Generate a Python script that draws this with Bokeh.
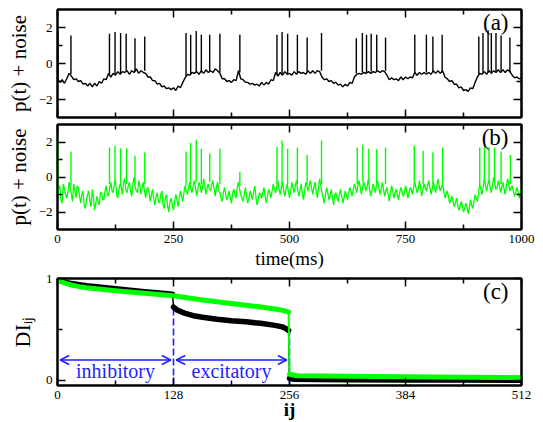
from bokeh.plotting import figure
from bokeh.layouts import column
from bokeh.models import FixedTicker, LinearAxis, Label, Arrow, OpenHead, Range1d
from bokeh.embed import file_html
from bokeh.resources import INLINE

# ---------------- data ----------------
time_ms = list(range(0, 1001, 5))
time_mid_ms = [t + 2.5 for t in range(0, 1000, 5)]

trace_a = [
    -0.85, -1.05, -0.9, -1.1, -0.85, -0.55, -0.7, -0.9, -0.85, -1.0,
    -0.95, -1.15, -1.1, -1.25, -1.1, -1.3, -1.1, -1.25, -1.0, -1.1,
    -0.85, -0.9, -0.55, -0.75, -0.55, -0.65, -0.45, -0.6, -0.45, -0.5,
    -0.4, -0.6, -0.4, -0.5, -0.3, -0.55, -0.4, -0.5, -0.55, -0.75,
    -0.75, -0.95, -0.95, -1.15, -1.1, -1.3, -1.25, -1.4, -1.35, -1.45,
    -1.35, -1.5, -1.25, -1.35, -1.05, -0.8, -0.6, -0.65, -0.5, -0.55,
    -0.45, -0.6, -0.4, -0.55, -0.35, -0.5, -0.4, -0.5, -0.3, -0.4,
    -0.55, -0.85, -0.85, -1.0, -0.95, -1.05, -0.9, -0.95, -0.4, -0.85,
    -0.9, -1.05, -1.05, -1.15, -1.1, -1.2, -1.15, -1.25, -1.05, -1.2,
    -1.05, -1.15, -0.9, -0.95, -0.5, -0.7, -0.5, -0.65, -0.45, -0.6,
    -0.55, -0.65, -0.45, -0.6, -0.45, -0.55, -0.5, -0.6, -0.4, -0.55,
    -0.4, -0.55, -0.4, -0.45, -0.75, -0.9, -0.85, -1.0, -0.95, -1.1,
    -1.05, -1.2, -1.15, -1.3, -1.15, -1.25, -1.05, -1.1, -0.75, -0.6,
    -0.55, -0.6, -0.5, -0.55, -0.45, -0.55, -0.45, -0.5, -0.4, -0.5,
    -0.4, -0.45, -0.65, -0.9, -0.8, -0.9, -0.85, -0.95, -0.75, -0.9,
    -0.75, -0.85, -0.75, -0.8, -0.5, -0.65, -0.5, -0.6, -0.5, -0.6,
    -0.5, -0.6, -0.4, -0.55, -0.4, -0.55, -0.4, -0.75, -0.85, -1.0,
    -0.95, -1.15, -1.15, -1.35, -1.3, -1.5, -1.45, -1.55, -1.35, -1.4,
    -1.05, -0.75, -0.55, -0.6, -0.45, -0.6, -0.4, -0.55, -0.4, -0.5,
    -0.35, -0.5, -0.35, -0.5, -0.35, -0.45, -0.65, -0.8, -0.75, -0.85,
    -0.8,
]

trace_b = [
    -1.1, -0.5, -1.5, -0.7, -1.2, -0.3, -1.0, -0.4, -1.2, -0.6,
    -1.5, -0.8, -1.8, -1.0, -1.4, -0.7, -1.9, -1.1, -1.6, -0.9,
    -1.3, -0.5, -1.1, -0.3, -0.9, -0.2, -1.2, -0.4, -1.0, -0.1,
    -0.9, -0.3, -1.1, 0.0, -0.8, -0.2, -1.0, -0.3, -1.2, -0.6,
    -1.4, -0.7, -1.6, -0.9, -1.5, -0.8, -1.8, -1.0, -2.0, -1.2,
    -1.9, -1.0, -1.7, -0.8, -1.4, -0.5, -1.0, -0.3, -0.9, -0.2,
    -1.1, -0.3, -0.9, -0.1, -1.0, -0.4, -0.8, -0.2, -1.1, -0.3,
    -0.9, -1.4, -0.6, -1.3, -0.8, -1.5, -0.7, -1.2, -0.3, -1.0,
    -1.4, -0.6, -1.5, -0.8, -1.3, -0.5, -1.6, -0.9, -1.2, -0.6,
    -1.5, -0.7, -1.2, -0.4, -0.9, -0.2, -1.0, -0.3, -1.1, -0.4,
    -1.2, -0.3, -0.9, -0.2, -1.1, -0.4, -1.3, -0.3, -0.8, -0.2,
    -1.0, -0.3, -1.2, -0.1, -0.9, -1.5, -0.6, -1.3, -0.7, -1.6,
    -0.9, -1.4, -0.7, -1.5, -0.8, -1.3, -0.6, -1.1, -0.4, -0.9,
    -0.2, -1.0, -0.3, -0.8, -0.1, -1.1, -0.4, -0.9, -0.2, -1.0,
    -0.3, -1.1, -0.6, -1.4, -0.5, -1.2, -0.7, -1.3, -0.6, -1.1,
    -0.5, -1.2, -0.6, -1.0, -0.3, -0.9, -0.2, -1.1, -0.4, -0.8,
    -0.2, -1.0, -0.3, -0.9, -0.1, -0.8, -0.4, -1.2, -0.8, -1.5,
    -1.1, -1.7, -1.2, -1.9, -1.4, -2.0, -1.5, -2.1, -1.3, -1.8,
    -1.0, -1.4, -0.4, -1.0, -0.1, -0.8, -0.2, -0.9, 0.0, -0.7,
    -0.2, -0.9, -0.3, -1.0, -0.1, -0.8, -0.5, -1.1, -0.6, -1.2,
    -0.6,
]

# green samples half-way between the 5 ms samples above
trace_b_mid = [
    -0.7, -1.3, -0.4, -1.0, -0.9, -0.6, -1.4, -0.8, -0.5, -1.1,
    -1.0, -1.6, -1.3, -0.8, -1.7, -1.2, -1.5, -1.4, -0.9, -1.3,
    -0.8, -1.0, -0.6, -0.8, -0.4, -1.0, -0.7, -0.6, -0.3, -0.8,
    -0.5, -0.8, -0.4, -0.6, -0.9, -0.5, -0.6, -0.8, -0.7, -0.9,
    -1.0, -1.3, -1.1, -1.4, -1.0, -1.6, -1.2, -1.7, -1.4, -1.6,
    -1.4, -1.3, -1.2, -1.1, -0.9, -0.8, -0.6, -0.7, -0.5, -0.6,
    -0.7, -0.5, -0.6, -0.5, -0.6, -0.7, -0.4, -0.7, -0.6, -0.8,
    -1.2, -0.9, -1.0, -1.1, -1.2, -0.9, -1.0, -0.6, -0.7, -1.2,
    -1.0, -1.1, -1.2, -1.0, -0.9, -1.1, -1.3, -1.0, -0.9, -1.1,
    -1.1, -0.9, -0.8, -0.7, -0.6, -0.7, -0.6, -0.8, -0.7, -0.8,
    -0.8, -0.6, -0.5, -0.7, -0.8, -0.9, -0.8, -0.5, -0.5, -0.6,
    -0.6, -0.8, -0.6, -0.5, -1.2, -1.0, -0.9, -1.1, -1.2, -1.0,
    -1.2, -1.0, -1.1, -1.2, -1.0, -0.9, -0.8, -0.7, -0.6, -0.5,
    -0.6, -0.6, -0.5, -0.5, -0.7, -0.8, -0.6, -0.5, -0.6, -0.7,
    -0.7, -0.8, -1.0, -0.9, -0.8, -0.9, -1.0, -0.9, -0.8, -0.9,
    -0.8, -0.9, -0.7, -0.6, -0.6, -0.7, -0.6, -0.7, -0.6, -0.5,
    -0.6, -0.7, -0.6, -0.5, -0.5, -0.6, -0.8, -1.0, -1.1, -1.3,
    -1.4, -1.5, -1.6, -1.7, -1.6, -1.8, -1.7, -1.8, -1.6, -1.4,
    -1.2, -0.9, -0.7, -0.6, -0.5, -0.4, -0.6, -0.5, -0.4, -0.6,
    -0.5, -0.6, -0.7, -0.5, -0.4, -0.6, -0.8, -0.9, -0.8, -0.9,
]

spike_t_a = [1, 29, 112, 124, 136, 148, 167, 188, 277, 287, 299, 310, 328, 350, 393,
             473, 484, 496, 517, 538, 569, 644, 657, 666, 676, 688, 707,
             770, 795, 809, 829, 908, 917, 928, 935, 945, 956, 975]
spike_peak_a = [1.8, 1.55, 1.65, 1.75, 1.7, 1.65, 1.4, 1.5, 1.7, 1.6, 1.8, 1.6, 1.6, 1.65, 1.6,
                1.6, 1.75, 1.65, 1.6, 1.45, 1.7, 1.4, 1.7, 1.6, 1.65, 1.6, 1.45,
                1.6, 1.6, 1.5, 1.6, 1.5, 1.7, 1.85, 1.7, 1.7, 1.55, 1.45]
spike_foot_a = [-0.9, -0.6, -0.6, -0.6, -0.55, -0.45, -0.45, -0.4, -0.7, -0.6, -0.5, -0.5, -0.4, -0.5, -0.5,
                -0.6, -0.6, -0.55, -0.55, -0.5, -0.4, -0.55, -0.5, -0.5, -0.45, -0.45, -0.4,
                -0.55, -0.5, -0.5, -0.5, -0.6, -0.55, -0.5, -0.5, -0.45, -0.4, -0.5]

spike_t_b = [1, 29, 112, 124, 136, 149, 167, 188, 277, 287, 299, 310, 328, 350, 393,
             473, 484, 496, 517, 538, 569, 646, 658, 671, 688, 707,
             769, 788, 809, 830, 910, 920, 930, 942, 956, 976]
spike_peak_b = [2.2, 1.46, 1.68, 1.77, 1.64, 1.64, 1.22, 1.4, 1.46, 1.95, 2.13, 1.62, 1.35, 1.62, 0.3,
                1.73, 2.08, 1.62, 1.68, 1.26, 2.08, 1.68, 1.86, 1.62, 1.58, 1.68,
                1.8, 1.48, 1.4, 1.68, 1.68, 1.9, 1.7, 1.68, 1.46, 1.26]
spike_foot_b = [-1.0, -0.5, -0.4, -0.4, -0.4, -0.4, -0.4, -0.4, -0.5, -0.4, -0.3, -0.4, -0.3, -0.4, -0.5,
                -0.4, -0.4, -0.4, -0.4, -0.4, -0.4, -0.4, -0.3, -0.4, -0.4, -0.4,
                -0.4, -0.4, -0.4, -0.4, -0.4, -0.3, -0.3, -0.3, -0.4, -0.4]

time_ticks = [0, 250, 500, 750, 1000]
time_minor = [125, 375, 625, 875]
p_ticks = [-2, 0, 2]
p_minor = [-1, 1]

di_ij_black = [0, 4, 8, 16, 24, 32, 48, 64, 80, 96, 112, 127,
               128, 132, 140, 150, 160, 176, 192, 208, 224, 240, 248, 252, 255,
               256, 260, 288, 320, 384, 448, 512]
di_black = [1.0, 0.975, 0.965, 0.95, 0.94, 0.93, 0.915, 0.9, 0.885, 0.87, 0.857, 0.846,
            0.72, 0.69, 0.66, 0.635, 0.62, 0.6, 0.585, 0.575, 0.56, 0.54, 0.525, 0.51, 0.49,
            0.02, 0.012, 0.009, 0.007, 0.005, 0.003, 0.002]
di_ij_green = [0, 4, 8, 16, 24, 32, 48, 64, 96, 128,
               160, 192, 224, 240, 250, 255,
               256, 264, 320, 384, 448, 512]
di_green = [1.0, 0.97, 0.955, 0.935, 0.92, 0.91, 0.895, 0.88, 0.855, 0.83,
            0.79, 0.755, 0.72, 0.7, 0.685, 0.67,
            0.06, 0.045, 0.04, 0.035, 0.03, 0.027]

ij_ticks = [0, 128, 256, 384, 512]
ij_minor = [64, 192, 320, 448]
di_ticks = [0, 1]
di_minor = [0.5]
boundaries = [0, 128, 256]
region_names = ["inhibitory", "excitatory"]
arrow_level = 0.2
region_text_level = 0.09

# ---------------- styling helpers ----------------
FONT = "'Liberation Serif', 'Times New Roman', serif"
GREEN = "#00ff00"
BLUE = "#1f1fff"
FIG_W = 538


def style_axis(ax, ticks, minor, labels=True):
    ax.ticker = FixedTicker(ticks=ticks, minor_ticks=minor)
    ax.major_tick_in = 8
    ax.major_tick_out = 0
    ax.minor_tick_in = 5
    ax.minor_tick_out = 0
    ax.major_tick_line_width = 1.5
    ax.minor_tick_line_width = 1.5
    ax.major_tick_line_color = "black"
    ax.minor_tick_line_color = "black"
    ax.axis_line_width = 2
    ax.axis_line_color = "black"
    ax.major_label_text_font = FONT
    ax.major_label_text_font_size = "13px"
    ax.axis_label_text_font = FONT
    ax.axis_label_text_font_style = "normal"
    ax.axis_label_text_color = "black"
    if labels:
        ax.major_label_text_color = "black"
        ax.major_label_standoff = 5
    else:
        ax.major_label_text_color = None
        ax.major_label_standoff = 0


def make_fig(height, xr, yr, top, bottom, xt, xm, yt, ym, xlabels):
    bottom_ax = LinearAxis()
    style_axis(bottom_ax, xt, xm, xlabels)
    left_ax = LinearAxis()
    style_axis(left_ax, yt, ym, True)
    top_ax = LinearAxis()
    style_axis(top_ax, xt, xm, False)
    right_ax = LinearAxis()
    style_axis(right_ax, yt, ym, False)
    p = figure(width=FIG_W, height=height, x_range=xr, y_range=yr,
               output_backend="svg", toolbar_location=None,
               x_axis_location=None, y_axis_location=None,
               min_border_left=57, min_border_right=17,
               min_border_top=top, min_border_bottom=bottom)
    p.grid.visible = False
    p.outline_line_color = "black"
    p.outline_line_width = 2
    p.background_fill_color = "white"
    p.border_fill_color = "white"
    p.add_layout(bottom_ax, "below")
    p.add_layout(left_ax, "left")
    p.add_layout(top_ax, "above")
    p.add_layout(right_ax, "right")
    return p, bottom_ax, left_ax


def panel_label(p, text, x, y):
    p.add_layout(Label(x=x, y=y, x_offset=-13, text=text, text_align="right",
                       text_baseline="top", text_font=FONT, text_font_size="23px",
                       text_color="black"))


# ---------------- panel (a) ----------------
pa, xa, ya = make_fig(120, Range1d(0, 1000), Range1d(-3, 3), 9, 3,
                      time_ticks, time_minor, p_ticks, p_minor, False)
ya.axis_label = "p(t) + noise"
ya.axis_label_text_font_size = "21px"
ya.axis_label_standoff = 5
pa.line(time_ms, trace_a, line_color="black", line_width=1.4)
pa.segment(x0=spike_t_a, y0=spike_foot_a, x1=spike_t_a, y1=spike_peak_a,
           line_color="black", line_width=1.4)
panel_label(pa, "(a)", 1000, 3)

# ---------------- panel (b) ----------------
pb, xb, yb = make_fig(151, Range1d(0, 1000), Range1d(-3, 3), 4, 37,
                      time_ticks, time_minor, p_ticks, p_minor, True)
yb.axis_label = "p(t) + noise"
yb.axis_label_text_font_size = "21px"
yb.axis_label_standoff = 5
xb.axis_label = "time(ms)"
xb.axis_label_text_font_size = "19px"
xb.axis_label_standoff = 2
xb.major_label_standoff = 5
# interleave the 5 ms samples with the half-way samples
t_b, v_b = [], []
for k in range(len(time_mid_ms)):
    t_b += [time_ms[k], time_mid_ms[k]]
    v_b += [trace_b[k], trace_b_mid[k]]
t_b.append(time_ms[-1])
v_b.append(trace_b[-1])
pb.line(t_b, v_b, line_color=GREEN, line_width=1.3)
pb.segment(x0=spike_t_b, y0=spike_foot_b, x1=spike_t_b, y1=spike_peak_b,
           line_color=GREEN, line_width=1.4)
panel_label(pb, "(b)", 1000, 3)

# ---------------- panel (c) ----------------
pc, xc, yc = make_fig(151, Range1d(0, 512), Range1d(-0.05, 1.0), 7, 37,
                      ij_ticks, ij_minor, di_ticks, di_minor, True)
xc.axis_label = "ij"
xc.axis_label_text_font_size = "19px"
xc.axis_label_text_font_style = "bold"
xc.axis_label_standoff = -3
xc.major_label_standoff = 5
yc.axis_label = "DI\u1d62\u2c7c"
yc.axis_label_text_font_size = "22px"
yc.axis_label_standoff = 8


def thick_pieces(xs, ys, jump=0.1):
    px, py = [[xs[0]]], [[ys[0]]]
    for i in range(1, len(xs)):
        if abs(ys[i] - ys[i - 1]) > jump:
            px.append([])
            py.append([])
        px[-1].append(xs[i])
        py[-1].append(ys[i])
    return px, py


# dashed boundaries up to the black curve's value at each boundary
bx = boundaries[1:]
btop = [di_black[di_ij_black.index(bx[0])], di_black[di_ij_black.index(bx[1]) - 1]]
pc.segment(x0=bx, y0=[-0.05] * len(bx), x1=bx, y1=btop,
           line_color=BLUE, line_width=1.6, line_dash="7 3")

bxs, bys = thick_pieces(di_ij_black, di_black)
pc.line(di_ij_black, di_black, line_color="black", line_width=1.5)
pc.multi_line(bxs, bys, line_color="black", line_width=5.5, line_cap="round", line_join="round")
gxs, gys = thick_pieces(di_ij_green, di_green)
pc.line(di_ij_green, di_green, line_color=GREEN, line_width=2)
pc.multi_line(gxs, gys, line_color=GREEN, line_width=5, line_cap="round", line_join="round")

for k, name in enumerate(region_names):
    lo, hi = boundaries[k], boundaries[k + 1]
    pc.add_layout(Arrow(start=OpenHead(size=9, line_color=BLUE, line_width=1.5),
                        end=OpenHead(size=9, line_color=BLUE, line_width=1.5),
                        x_start=lo + 3, y_start=arrow_level, x_end=hi - 3, y_end=arrow_level,
                        line_color=BLUE, line_width=1.5))
    pc.add_layout(Label(x=(lo + hi) / 2, y=region_text_level, text=name,
                        text_align="center", text_baseline="middle",
                        text_font=FONT, text_font_size="20px", text_color=BLUE))

panel_label(pc, "(c)", 512, 1.0)

layout = column(pa, pb, pc)
open("out.html", "w").write(file_html(layout, INLINE))
